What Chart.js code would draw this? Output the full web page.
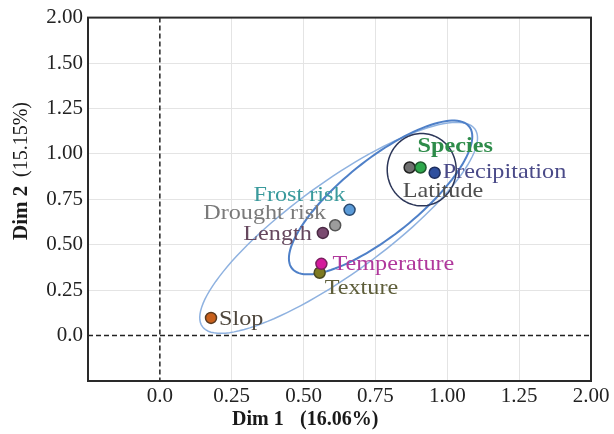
<!DOCTYPE html>
<html><head><meta charset="utf-8">
<script src="https://cdn.jsdelivr.net/npm/chart.js@4.4.1/dist/chart.umd.min.js"></script>
<style>html,body{margin:0;padding:0;background:#fff;}#wrap{width:614px;height:434px;}</style>
</head><body><div id="wrap"><canvas id="c" width="614" height="434"></canvas></div>
<script>
// ---- data ----
const variables = ["Slop","Texture","Temperature","Length","Drought risk","Frost risk","Latitude","Species","Precipitation"];
const dim1 = [0.178, 0.556, 0.562, 0.567, 0.610, 0.660, 0.869, 0.907, 0.956];
const dim2 = [0.097, 0.346, 0.395, 0.565, 0.607, 0.692, 0.925, 0.925, 0.896];
const xTickValues = [0, 0.25, 0.5, 0.75, 1, 1.25, 1.5];
const xTickLabels = ["0.0","0.25","0.50","0.75","1.00","1.25","2.00"];
const yTickValues = [0, 0.25, 0.5, 0.75, 1, 1.25, 1.5, 1.75];
const yTickLabels = ["0.0","0.25","0.50","0.75","1.00","1.25","1.50","2.00"];
// ellipses (data units): centre and two conjugate semi-axis vectors
const ellipseCx = [0.622, 0.768, 0.911];
const ellipseCy = [0.593, 0.760, 0.913];
const ellipseAx = [0.474, 0.308, 0.120];
const ellipseAy = [0.544, 0.391, 0.000];
const ellipseBx = [0.094, 0.083, 0.000];
const ellipseBy = [-0.203, -0.162, 0.199];
const xTitle = ["Dim 1", "(16.06%)"];
const yTitle = ["Dim 2", "(15.15%)"];

// ---- styles ----
const pointColors = ["#c8601c","#7d7a22","#d41a9c","#7a4a70","#9c9c9c","#5b9bd8","#707070","#2ea84c","#2f4f9e"];
const pointBorders = ["#5a3a20","#4a4a20","#7a2060","#4a2a44","#555","#2a4a70","#222","#1f5a2e","#1e2e5e"];
const labelStyle = [
  {dx:8, dy:1, align:'left', color:'#4e463c', bold:false},
  {dx:5, dy:16, align:'left', color:'#5e5e3a', bold:false},
  {dx:11, dy:0, align:'left', color:'#b0389c', bold:false},
  {dx:-11, dy:1, align:'right', color:'#66485e', bold:false},
  {dx:-9, dy:-12, align:'right', color:'#7a7a7a', bold:false},
  {dx:-4, dy:-15, align:'right', color:'#3a9a9c', bold:false},
  {dx:-7, dy:24, align:'left', color:'#4e4e4e', bold:false},
  {dx:-3, dy:-21, align:'left', color:'#2e8c4a', bold:true},
  {dx:8, dy:-1, align:'left', color:'#4a4a88', bold:false}
];
const ellipseStyle = [
  {color:'#8fb2e0', width:1.5},
  {color:'#4f80c8', width:2},
  {color:'#2c3658', width:1.5}
];
const SERIF = '"Liberation Serif","Times New Roman",serif';

const overlay = {
  id: 'overlay',
  beforeDatasetsDraw(chart) {
    const {ctx, chartArea:a, scales:{x, y}} = chart;
    ctx.save();
    ctx.beginPath(); ctx.rect(a.left, a.top, a.right - a.left, a.bottom - a.top); ctx.clip();
    // dashed zero lines
    ctx.strokeStyle = '#222'; ctx.lineWidth = 1.5; ctx.setLineDash([5, 3]);
    const x0 = x.getPixelForValue(0), y0 = y.getPixelForValue(0);
    ctx.beginPath(); ctx.moveTo(a.left, y0); ctx.lineTo(a.right, y0); ctx.stroke();
    ctx.beginPath(); ctx.moveTo(x0, a.top); ctx.lineTo(x0, a.bottom); ctx.stroke();
    ctx.setLineDash([]);
    // ellipses
    for (let i = 0; i < ellipseCx.length; i++) {
      ctx.beginPath();
      for (let k = 0; k <= 120; k++) {
        const t = k / 120 * Math.PI * 2;
        const vx = ellipseCx[i] + ellipseAx[i] * Math.cos(t) + ellipseBx[i] * Math.sin(t);
        const vy = ellipseCy[i] + ellipseAy[i] * Math.cos(t) + ellipseBy[i] * Math.sin(t);
        const px = x.getPixelForValue(vx), py = y.getPixelForValue(vy);
        if (k === 0) ctx.moveTo(px, py); else ctx.lineTo(px, py);
      }
      ctx.closePath();
      ctx.strokeStyle = ellipseStyle[i].color; ctx.lineWidth = ellipseStyle[i].width;
      ctx.stroke();
    }
    ctx.restore();
  },
  afterDatasetsDraw(chart) {
    const {ctx, chartArea:a, scales:{x, y}} = chart;
    ctx.save();
    // labels
    ctx.textBaseline = 'middle';
    for (let i = 0; i < variables.length; i++) {
      const s = labelStyle[i];
      const px = x.getPixelForValue(dim1[i]) + s.dx;
      const py = y.getPixelForValue(dim2[i]) + s.dy;
      ctx.save();
      ctx.translate(px, py); ctx.scale(1.1, 1);
      ctx.font = (s.bold ? 'bold ' : '') + '22px ' + SERIF;
      ctx.textAlign = s.align;
      ctx.fillStyle = s.color;
      ctx.fillText(variables[i], 0, 0);
      ctx.restore();
    }
    // frame
    ctx.strokeStyle = '#2a2a2a'; ctx.lineWidth = 2;
    ctx.strokeRect(a.left, a.top, a.right - a.left, a.bottom - a.top);
    // axis titles
    ctx.fillStyle = '#1a1a1a';
    ctx.textBaseline = 'middle'; ctx.textAlign = 'left';
    ctx.font = 'bold 20px ' + SERIF;
    ctx.fillText(xTitle[0], 232, 420);
    ctx.fillText(xTitle[1], 300, 420);
    ctx.save();
    ctx.translate(22, 240); ctx.rotate(-Math.PI / 2);
    ctx.font = 'bold 21px ' + SERIF;
    ctx.fillText(yTitle[0], 0, 0);
    ctx.font = '20px ' + SERIF;
    ctx.fillText(yTitle[1], 63, 0);
    ctx.restore();
    ctx.restore();
  }
};

function lookup(vals, labels, v) {
  for (let i = 0; i < vals.length; i++) if (Math.abs(vals[i] - v) < 1e-6) return labels[i];
  return '';
}

new Chart(document.getElementById('c'), {
  type: 'scatter',
  data: { datasets: [{
    data: dim1.map((v, i) => ({x: v, y: dim2[i]})),
    pointBackgroundColor: pointColors,
    pointBorderColor: pointBorders,
    pointBorderWidth: 1.5,
    pointRadius: 5.5,
    pointHoverRadius: 5.5
  }]},
  options: {
    responsive: false, animation: false, devicePixelRatio: 1,
    layout: { padding: { top: 15, right: 23, left: 0, bottom: 0 } },
    plugins: { legend: {display: false}, tooltip: {enabled: false} },
    scales: {
      x: {
        type: 'linear', min: -0.25, max: 1.5,
        afterFit(s) { s.height = 53; },
        ticks: { stepSize: 0.25, autoSkip: false, maxRotation: 0, padding: 3, color: '#222',
          font: {family: SERIF, size: 21},
          callback: v => lookup(xTickValues, xTickLabels, v) },
        grid: { color: c => (Math.abs(c.tick.value) < 1e-6 ? 'rgba(0,0,0,0)' : '#e4e4e4'), lineWidth: 1, drawTicks: false },
        border: { display: false }
      },
      y: {
        type: 'linear', min: -0.25, max: 1.75,
        afterFit(s) { s.width = 88; },
        ticks: { stepSize: 0.25, autoSkip: false, padding: 5, color: '#222',
          font: {family: SERIF, size: 21},
          callback: v => lookup(yTickValues, yTickLabels, v) },
        grid: { color: c => (Math.abs(c.tick.value) < 1e-6 ? 'rgba(0,0,0,0)' : '#e4e4e4'), lineWidth: 1, drawTicks: false },
        border: { display: false }
      }
    }
  },
  plugins: [overlay]
});
</script></body></html>
